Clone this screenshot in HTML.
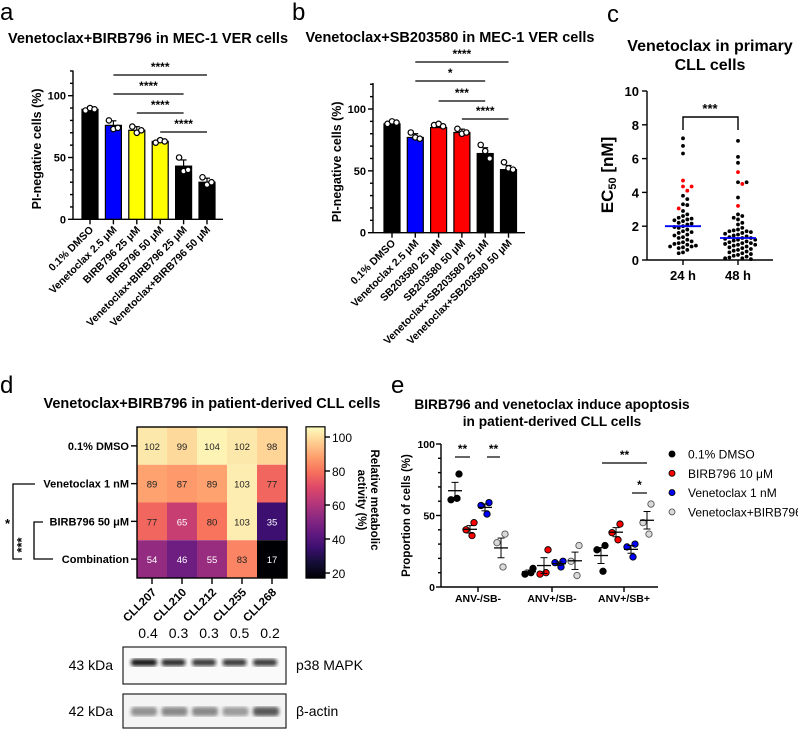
<!DOCTYPE html>
<html><head><meta charset="utf-8"><style>
html,body{margin:0;padding:0;background:#fff;}
svg{display:block;font-family:"Liberation Sans",Arial,sans-serif;}
</style></head><body>
<svg id="fig" width="798" height="729" viewBox="0 0 798 729" xmlns="http://www.w3.org/2000/svg">
<defs>
<linearGradient id="cmap" x1="0" y1="1" x2="0" y2="0">
<stop offset="0" stop-color="#000004"/><stop offset="0.1" stop-color="#140e36"/><stop offset="0.2" stop-color="#3b0f70"/><stop offset="0.3" stop-color="#641a80"/><stop offset="0.4" stop-color="#8c2981"/><stop offset="0.5" stop-color="#b73779"/><stop offset="0.6" stop-color="#de4968"/><stop offset="0.7" stop-color="#f7705c"/><stop offset="0.8" stop-color="#fe9f6d"/><stop offset="0.9" stop-color="#fecf92"/><stop offset="1" stop-color="#fcfdbf"/>
</linearGradient>
<filter id="blur"><feGaussianBlur stdDeviation="1.8"/></filter>
</defs>
</svg>
<script>
// ---------- data ----------
const aCats = ["0.1% DMSO","Venetoclax 2.5 μM","BIRB796 25 μM","BIRB796 50 μM","Venetoclax+BIRB796 25 μM","Venetoclax+BIRB796 50 μM"];
const aMeans = [89,76,72,63,43,30];
const aPts = [[88,90,89],[80,73,74],[75,70,72],[62,64,63],[50,39,40],[34,28,30]];
const aColors = ["#000","#0000ff","#ffff00","#ffff00","#000","#000"];
const bCats = ["0.1% DMSO","Venetoclax 2.5 μM","SB203580 25 μM","SB203580 50 μM","Venetoclax+SB203580 25 μM","Venetoclax+SB203580 50 μM"];
const bMeans = [88,77,85,81,64,51];
const bPts = [[88,90,89],[81,77,76],[87,88,86],[84,80,81],[71,66,60],[57,52,51]];
const bColors = ["#000","#0000ff","#ff0000","#ff0000","#000","#000"];
const yTicks100 = [0,50,100];
const cCats = ["24 h","48 h"];
const c24 = [7.2,6.75,6.3,3.8,3.6,3.3,3.25,2.9,2.7,2.6,2.5,2.45,2.4,2.35,2.3,2.2,2.15,2.1,2.0,1.95,1.9,1.8,1.7,1.65,1.6,1.5,1.45,1.35,1.3,1.2,1.1,1.05,1.0,0.95,0.9,0.85,0.8,0.8,0.75,0.7,0.6,0.45,0.4];
const c24red = [4.7,4.35,4.35,4.1,3.05];
const c48 = [7.05,6.1,5.75,4.6,4.6,3.7,2.7,2.6,2.5,2.4,2.2,2.1,1.9,1.8,1.75,1.7,1.7,1.65,1.6,1.55,1.5,1.45,1.4,1.35,1.3,1.3,1.25,1.2,1.2,1.15,1.1,1.05,1.0,1.0,0.95,0.9,0.9,0.85,0.8,0.75,0.7,0.65,0.6,0.55,0.5,0.45,0.4,0.35,0.3,0.25,0.2,0.15,0.1,0.1,0.05];
const c48red = [5.2,4.5,3.2];
const cMedians = [2.0,1.3];
const cTicks = [0,2,4,6,8,10];
const dRows = ["0.1% DMSO","Venetoclax 1 nM","BIRB796 50 μM","Combination"];
const dCols = ["CLL207","CLL210","CLL212","CLL255","CLL268"];
const dVals = [[102,99,104,102,98],[89,87,89,103,77],[77,65,80,103,35],[54,46,55,83,17]];
const dRatios = ["0.4","0.3","0.3","0.5","0.2"];
const dCbTicks = [20,40,60,80,100];
const eGroups = ["ANV-/SB-","ANV+/SB-","ANV+/SB+"];
const eSeries = ["0.1% DMSO","BIRB796 10 μM","Venetoclax 1 nM","Venetoclax+BIRB796"];
const eFill = ["#000","#ff0000","#0000ff","#d9d9d9"];
const eDMSO = [[79,61,62],[13,9,10],[29,26,11]];
const eBIRB = [[45,40,36],[26,9,10],[44,38,33]];
const eVen = [[59,57,51],[18,17,14],[30,28,21]];
const eCombo = [[37,31,14],[29,18,8],[58,45,37]];
const eTicks = [0,50,100];

// ---------- helpers ----------
const svg = document.getElementById('fig');
const NS = 'http://www.w3.org/2000/svg';
function mk(tag, attrs, name, parent){
  const el = document.createElementNS(NS, tag);
  for (const k in attrs) el.setAttribute(k, attrs[k]);
  
  
  (parent||svg).appendChild(el);
  return el;
}
function txt(x,y,s,size,name,opts){
  opts=opts||{};
  const a={x:x,y:y,'font-size':size,fill:opts.fill||'#000'};
  if(opts.bold!==false) a['font-weight']='bold';
  if(opts.anchor) a['text-anchor']=opts.anchor;
  if(opts.rot!==undefined) a.transform='rotate('+opts.rot+' '+x+' '+y+')';
  const t=mk('text',a,name);
  t.textContent=s;
  return t;
}
function line(x1,y1,x2,y2,name,w,col){
  return mk('line',{x1:x1,y1:y1,x2:x2,y2:y2,stroke:col||'#000','stroke-width':w||1.4},name);
}
function mean(a){return a.reduce((s,v)=>s+v,0)/a.length;}
function sem(a){const m=mean(a);return Math.sqrt(a.reduce((s,v)=>s+(v-m)*(v-m),0)/(a.length-1))/Math.sqrt(a.length);}

// ---------- bar panels a, b ----------
function barPanel(o){
  const y = v => o.y0 - v*o.k;
  const x = i => o.x0 + i*o.dx;
  line(o.ax, y(0), o.ax, o.top, o.p+'-y-axis');
  line(o.ax, y(0), o.axEnd, y(0), o.p+'-x-axis');
  for(let t=0;t<=120;t+=10){ line(o.ax-(t%50===0?5:3), y(t), o.ax, y(t), o.p+'-y-tick'); }
  yTicks100.forEach(t=>txt(o.ax-7, y(t)+4, String(t), 11, o.p+'-y-tick-label',{anchor:'end'}));
  txt(o.ax-32, (y(0)+o.top)/2+4, 'PI-negative cells (%)', 12.5, o.p+'-y-axis-title',{anchor:'middle',rot:-90});
  o.means.forEach((m,i)=>{
    mk('rect',{x:x(i)-8,y:y(m),width:16,height:y(0)-y(m),fill:o.colors[i],stroke:'#000','stroke-width':1.2},o.p+'-bar');
    const e=sem(o.pts[i]);
    line(x(i), y(m), x(i), y(m+e+1.5), o.p+'-error-bar',1.2);
    line(x(i)-3, y(m+e+1.5), x(i)+3, y(m+e+1.5), o.p+'-error-cap',1.2);
    const offs=[-4.5,0,4.5];
    o.pts[i].forEach((v,j)=>{
      mk('circle',{cx:x(i)+offs[j],cy:y(v),r:2.7,fill:'#fff',stroke:'#000','stroke-width':1.2},o.p+'-data-point');
    });
    line(x(i), y(0), x(i), y(0)+5, o.p+'-x-tick');
    txt(x(i)+4, y(0)+11, o.cats[i], 10.5, o.p+'-x-tick-label',{anchor:'end',rot:-45});
  });
  o.sig.forEach(s=>{
    line(x(s[0]), s[2], x(s[1]), s[2], o.p+'-significance-line',1.2);
    txt((x(s[0])+x(s[1]))/2, s[2]-4, s[3], 12, o.p+'-significance-stars',{anchor:'middle'});
  });
}
txt(0,20,'a',24,'panel-a-label',{bold:false});
txt(148,43,'Venetoclax+BIRB796 in MEC-1 VER cells',14.5,'panel-a-title',{anchor:'middle'});
barPanel({p:'a',ax:73,axEnd:223,y0:219.3,k:1.236,top:70.5,x0:90,dx:23.4,means:aMeans,pts:aPts,colors:aColors,cats:aCats,
 sig:[[1,5,75,'****'],[1,4,94,'****'],[2,4,113,'****'],[3,5,132,'****']]});
txt(292,20,'b',24,'panel-b-label',{bold:false});
txt(450,42,'Venetoclax+SB203580 in MEC-1 VER cells',14.5,'panel-b-title',{anchor:'middle'});
barPanel({p:'b',ax:373,axEnd:525,y0:232.7,k:1.237,top:83,x0:392,dx:23.3,means:bMeans,pts:bPts,colors:bColors,cats:bCats,
 sig:[[1,5,62,'****'],[1,4,81,'*'],[2,4,101,'***'],[3,5,119,'****']]});

// ---------- panel c ----------
(function(){
  const y0=260, k=16.9, ax=647;
  const y=v=>y0-v*k;
  const xs=[683,738];
  txt(607,22,'c',24,'panel-c-label',{bold:false});
  txt(710,51,'Venetoclax in primary',16,'panel-c-title-line1',{anchor:'middle'});
  txt(710,70,'CLL cells',16,'panel-c-title-line2',{anchor:'middle'});
  line(ax,y0,ax,y(10),'c-y-axis');
  line(ax,y0,773,y0,'c-x-axis');
  cTicks.forEach(t=>{line(ax-5,y(t),ax,y(t),'c-y-tick');txt(ax-8,y(t)+5,String(t),13,'c-y-tick-label',{anchor:'end'});});
  const lab=txt(613,175,'EC',17,'c-y-axis-title',{anchor:'middle',rot:-90});
  const sub=document.createElementNS(NS,'tspan');sub.setAttribute('font-size','11');sub.setAttribute('dy','3');sub.textContent='50';lab.appendChild(sub);
  const rest=document.createElementNS(NS,'tspan');rest.setAttribute('dy','-3');rest.textContent=' [nM]';lab.appendChild(rest);
  cCats.forEach((c,i)=>{line(xs[i],y0,xs[i],y0+5,'c-x-tick');txt(xs[i],y0+20,c,13,'c-x-tick-label',{anchor:'middle'});});
  function swarm(vals,reds,cx){
    const all=vals.map(v=>[v,'#000']).concat(reds.map(v=>[v,'#ff0000']));
    all.sort((a,b)=>b[0]-a[0]);
    const placed=[];
    all.forEach(p=>{
      const py=y(p[0]);let off=0;
      for(let s=0;s<40;s++){
        const cand=(s%2?1:-1)*Math.ceil(s/2)*4.3;
        if(placed.every(q=>Math.hypot(q[0]-(cx+cand),q[1]-py)>=4.3)){off=cand;break;}
      }
      placed.push([cx+off,py]);
      mk('circle',{cx:cx+off,cy:py,r:1.9,fill:p[1]},'c-data-point');
    });
  }
  swarm(c24,c24red,xs[0]);swarm(c48,c48red,xs[1]);
  cMedians.forEach((m,i)=>line(xs[i]-18,y(m),xs[i]+18,y(m),'c-median-line',1.8,'#0000ff'));
  mk('polyline',{points:`${xs[0]},130 ${xs[0]},117 ${xs[1]},117 ${xs[1]},130`,fill:'none',stroke:'#000','stroke-width':1.4},'c-significance-bracket');
  txt(710,113,'***',13,'c-significance-stars',{anchor:'middle'});
})();

// ---------- panel d ----------
(function(){
  txt(0,393,'d',24,'panel-d-label',{bold:false});
  txt(212,408,'Venetoclax+BIRB796 in patient-derived CLL cells',14.5,'panel-d-title',{anchor:'middle'});
  const hx=137,hy=427,cw=30,rh=37.75;
  const vmin=17,vmax=106;
  const stops=['#000004','#140e36','#3b0f70','#641a80','#8c2981','#b73779','#de4968','#f7705c','#fe9f6d','#fecf92','#fcfdbf'];
  function col(v){
    let f=Math.max(0,Math.min(1,(v-vmin)/(vmax-vmin)))*10;const i=Math.min(9,Math.floor(f));const t=f-i;
    const a=stops[i],b=stops[i+1];
    const c=[1,3,5].map(j=>Math.round(parseInt(a.substr(j,2),16)*(1-t)+parseInt(b.substr(j,2),16)*t));
    return 'rgb('+c.join(',')+')';
  }
  dVals.forEach((row,r)=>row.forEach((v,c)=>{
    mk('rect',{x:hx+c*cw,y:hy+r*rh,width:cw,height:rh,fill:col(v)},'d-heatmap-cell');
    txt(hx+c*cw+cw/2,hy+r*rh+rh/2+4,String(v),9.5,'d-cell-value',{anchor:'middle',bold:false,fill:v<70?'#fff':'#222'});
  }));
  mk('rect',{x:hx,y:hy,width:cw*5,height:rh*4,fill:'none',stroke:'#000','stroke-width':1.4},'d-heatmap-border');
  dRows.forEach((s,r)=>{const yy=hy+r*rh+rh/2;line(hx-6,yy,hx,yy,'d-row-tick');txt(hx-8,yy+4,s,11,'d-row-label',{anchor:'end'});});
  dCols.forEach((s,c)=>{const xx=hx+c*cw+cw/2;line(xx,hy+4*rh,xx,hy+4*rh+6,'d-col-tick');txt(xx+5,hy+4*rh+15,s,11.5,'d-col-label',{anchor:'end',rot:-45});});
  const cy=v=>573-(v-20)*1.7;
  mk('rect',{x:306,y:cy(vmax),width:19,height:cy(vmin)-cy(vmax),fill:'url(#cmap)',stroke:'#000','stroke-width':1.2},'d-colorbar');
  dCbTicks.forEach(t=>{line(325,cy(t),330,cy(t),'d-colorbar-tick');txt(332,cy(t)+5,String(t),12,'d-colorbar-tick-label',{bold:false});});
  txt(371,500,'Relative metabolic',11.5,'d-colorbar-title-line1',{anchor:'middle',rot:90});
  txt(358,500,'activity (%)',11.5,'d-colorbar-title-line2',{anchor:'middle',rot:90});
  mk('polyline',{points:'35,484 13,484 13,559 22,559',fill:'none',stroke:'#000','stroke-width':1.3},'d-bracket-star');
  txt(5,528,'*',13,'d-star');
  mk('polyline',{points:'43,522 34,522 34,559 53,559',fill:'none',stroke:'#000','stroke-width':1.3},'d-bracket-three-star');
  txt(26,545,'***',13,'d-three-stars',{anchor:'middle',rot:-90});
  dRatios.forEach((s,c)=>txt(148+c*30.5,638,s,14,'d-ratio-label',{anchor:'middle',bold:false}));
  mk('rect',{x:123,y:647,width:163,height:37,fill:'#fafafa',stroke:'#222','stroke-width':1.2},'d-blot-p38');
  mk('rect',{x:123,y:694,width:163,height:34,fill:'#f4f4f4',stroke:'#222','stroke-width':1.2},'d-blot-actin');
  const p38w=[26,24,24,24,24],p38o=[0.95,0.85,0.8,0.8,0.8];
  const actO=[0.5,0.55,0.55,0.45,0.8];
  for(let c=0;c<5;c++){
    const xx=131+c*30.5;
    mk('rect',{x:xx,y:659,width:p38w[c],height:7,rx:3,fill:'#111',opacity:p38o[c],filter:'url(#blur)'},'d-p38-band');
    mk('rect',{x:xx,y:707,width:26,height:9,rx:3,fill:'#333',opacity:actO[c],filter:'url(#blur)'},'d-actin-band');
  }
  txt(113,670,'43 kDa',14,'d-p38-size-label',{anchor:'end',bold:false});
  txt(113,716,'42 kDa',14,'d-actin-size-label',{anchor:'end',bold:false});
  txt(296,670,'p38 MAPK',14,'d-p38-label',{bold:false});
  txt(296,716,'β-actin',14,'d-actin-label',{bold:false});
})();

// ---------- panel e ----------
(function(){
  const y0=587,k=1.43,ax=441;
  const y=v=>y0-v*k;
  const gx=[478,552,624];const offs=[-23,-8,7,23];
  const series=[eDMSO,eBIRB,eVen,eCombo];
  txt(391,393,'e',24,'panel-e-label',{bold:false});
  txt(552,409,'BIRB796 and venetoclax induce apoptosis',13.7,'panel-e-title-line1',{anchor:'middle'});
  txt(552,426,'in patient-derived CLL cells',13.7,'panel-e-title-line2',{anchor:'middle'});
  line(ax,y0,ax,y(100),'e-y-axis');
  line(ax,y0,658,y0,'e-x-axis');
  for(let t=0;t<=100;t+=10) line(ax-(t%50===0?5:3),y(t),ax,y(t),'e-y-tick');
  eTicks.forEach(t=>txt(ax-6,y(t)+4,String(t),10.5,'e-y-tick-label',{anchor:'end'}));
  txt(410,(y0+y(100))/2,'Proportion of cells (%)',11.5,'e-y-axis-title',{anchor:'middle',rot:-90});
  eGroups.forEach((g,i)=>{line(gx[i],y0,gx[i],y0+5,'e-x-tick');txt(gx[i],y0+15,g,10.5,'e-x-tick-label',{anchor:'middle'});});
  series.forEach((ser,s)=>ser.forEach((pts,g)=>{
    const cx=gx[g]+offs[s];const m=mean(pts),e=sem(pts);
    const jit=[4,-4,2];
    pts.forEach((v,j)=>mk('circle',{cx:cx+jit[j],cy:y(v),r:3.2,fill:eFill[s],stroke:s===3?'#555':'#000','stroke-width':0.9},'e-data-point'));
    line(cx-7,y(m),cx+7,y(m),'e-mean-line',1.3);
    line(cx,y(m-e),cx,y(m+e),'e-error-bar',1);
    line(cx-3.5,y(m+e),cx+3.5,y(m+e),'e-error-cap',1);
    line(cx-3.5,y(m-e),cx+3.5,y(m-e),'e-error-cap',1);
  }));
  const sig=[[455,470,457,'**'],[487,500,457,'**'],[602,647,463,'**'],[632,647,493,'*']];
  sig.forEach(s=>{line(s[0],s[2],s[1],s[2],'e-significance-line',1.2);txt((s[0]+s[1])/2,s[2]-4,s[3],12,'e-significance-stars',{anchor:'middle'});});
  eSeries.forEach((s,i)=>{
    const yy=454+i*19.3;
    mk('circle',{cx:672,cy:yy,r:3,fill:eFill[i],stroke:i===3?'#555':'#000','stroke-width':0.9},'e-legend-marker');
    txt(688,yy+4.5,s,12,'e-legend-entry',{bold:false});
  });
})();
</script>
</body></html>
